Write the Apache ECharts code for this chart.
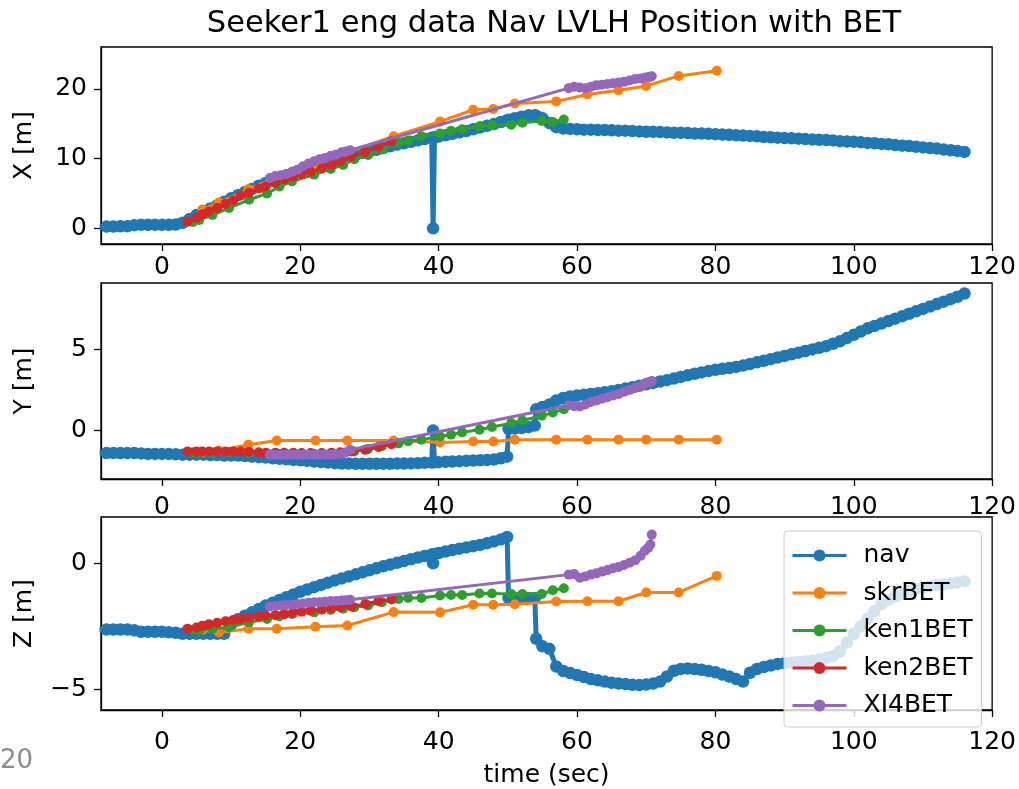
<!DOCTYPE html>
<html>
<head>
<meta charset="utf-8">
<title>Seeker1 eng data Nav LVLH Position with BET</title>
<script src="https://cdn.jsdelivr.net/npm/echarts@6/dist/echarts.min.js"></script>
<style>
html, body { margin: 0; padding: 0; background: #fff; }
#main { width: 1019px; height: 789px; }
</style>
</head>
<body>
<div id="main"></div>
<script>
// nav solution, time (sec)
var navT = [
	-9, -8, -7, -6, -5, -4, -3, -2, -1, 0,
	1, 2, 3, 4, 5, 6, 7, 8, 9, 10,
	11, 12, 13, 14, 15, 16, 17, 18, 19, 20,
	21, 22, 23, 24, 25, 26, 27, 28, 29, 30,
	31, 32, 33, 34, 35, 36, 37, 38, 39, 39.2,
	39.4, 40, 41, 42, 43, 44, 45, 46, 47, 48,
	49, 49.9, 50.1, 51, 52, 53, 53.9, 54.1, 55, 56,
	57, 58, 59, 60, 61, 62, 63, 64, 65, 66,
	67, 68, 69, 70, 71, 72, 73, 74, 75, 76,
	77, 78, 79, 80, 81, 82, 83, 84, 85, 86,
	87, 88, 89, 90, 91, 92, 93, 94, 95, 96,
	97, 98, 99, 100, 101, 102, 103, 104, 105, 106,
	107, 108, 109, 110, 111, 112, 113, 114, 115, 116
];
var navX = [
	0.25, 0.25, 0.25, 0.3, 0.3, 0.45, 0.5, 0.5, 0.5, 0.5,
	0.5, 0.55, 0.8, 1.35, 1.9, 2.4, 2.85, 3.3, 3.8, 4.3,
	4.75, 5.2, 5.65, 6.1, 6.5, 6.85, 7.25, 7.6, 7.95, 8.3,
	8.6, 8.9, 9.2, 9.5, 9.8, 10.05, 10.3, 10.55, 10.8, 11.0,
	11.25, 11.5, 11.75, 12.0, 12.2, 12.4, 12.6, 12.8, 13.0, 0,
	13.05, 13.15, 13.35, 13.55, 13.75, 13.95, 14.2, 14.45, 14.7, 14.95,
	15.25, 15.5, 15.55, 15.8, 16.0, 16.2, 16.2, 16.15, 15.8, 15.1,
	14.5, 14.3, 14.25, 14.2, 14.15, 14.15, 14.1, 14.1, 14.05, 14.0,
	14.0, 13.95, 13.9, 13.85, 13.85, 13.8, 13.75, 13.7, 13.7, 13.65,
	13.6, 13.6, 13.55, 13.5, 13.45, 13.4, 13.35, 13.3, 13.25, 13.2,
	13.1, 13.05, 13.0, 12.95, 12.9, 12.85, 12.8, 12.75, 12.7, 12.65,
	12.6, 12.5, 12.45, 12.4, 12.35, 12.25, 12.2, 12.1, 12.05, 11.95,
	11.85, 11.8, 11.7, 11.6, 11.5, 11.45, 11.3, 11.2, 11.1, 10.95
];
var navY = [
	-1.4, -1.4, -1.4, -1.4, -1.4, -1.4, -1.42, -1.45, -1.45, -1.45,
	-1.45, -1.47, -1.5, -1.5, -1.5, -1.5, -1.52, -1.52, -1.55, -1.55,
	-1.55, -1.58, -1.62, -1.65, -1.68, -1.72, -1.75, -1.78, -1.82, -1.85,
	-1.88, -1.92, -1.95, -1.98, -2.02, -2.05, -2.05, -2.06, -2.06, -2.06,
	-2.06, -2.06, -2.06, -2.05, -2.05, -2.04, -2.02, -2.0, -1.98, 0,
	-1.97, -1.96, -1.94, -1.92, -1.9, -1.88, -1.86, -1.84, -1.82, -1.8,
	-1.72, -1.62, 0.1, 0.12, 0.15, 0.2, 0.3, 1.3, 1.45, 1.6,
	1.85, 2.0, 2.1, 2.15, 2.2, 2.25, 2.3, 2.36, 2.42, 2.5,
	2.58, 2.66, 2.75, 2.85, 2.93, 3.02, 3.1, 3.2, 3.3, 3.4,
	3.5, 3.58, 3.66, 3.74, 3.8, 3.85, 3.92, 4.0, 4.1, 4.2,
	4.3, 4.4, 4.5, 4.6, 4.7, 4.8, 4.9, 5.0, 5.1, 5.2,
	5.35, 5.5, 5.7, 5.9, 6.1, 6.3, 6.45, 6.6, 6.75, 6.9,
	7.05, 7.2, 7.35, 7.5, 7.65, 7.8, 7.95, 8.1, 8.25, 8.45
];
var navZ = [
	-2.63, -2.63, -2.63, -2.63, -2.63, -2.66, -2.72, -2.72, -2.72, -2.72,
	-2.74, -2.76, -2.8, -2.8, -2.8, -2.8, -2.8, -2.8, -2.8, -2.42,
	-2.22, -2.08, -1.95, -1.82, -1.68, -1.57, -1.46, -1.35, -1.24, -1.13,
	-1.04, -0.95, -0.86, -0.77, -0.68, -0.6, -0.52, -0.44, -0.36, -0.28,
	-0.2, -0.12, -0.05, 0.02, 0.09, 0.16, 0.23, 0.29, 0.35, 0,
	0.37, 0.41, 0.47, 0.53, 0.58, 0.63, 0.68, 0.73, 0.8, 0.87,
	0.95, 1.05, -1.38, -1.38, -1.38, -1.38, -1.38, -3.0, -3.3, -3.4,
	-4.1, -4.28, -4.36, -4.44, -4.52, -4.6, -4.65, -4.7, -4.75, -4.78,
	-4.8, -4.83, -4.84, -4.82, -4.78, -4.7, -4.5, -4.27, -4.2, -4.18,
	-4.2, -4.23, -4.28, -4.33, -4.42, -4.5, -4.6, -4.7, -4.35, -4.2,
	-4.12, -4.06, -4.0, -3.97, -3.94, -3.92, -3.9, -3.87, -3.82, -3.76,
	-3.69, -3.5, -3.15, -2.8, -2.5, -2.2, -1.9, -1.62, -1.45, -1.32,
	-1.2, -1.1, -1.02, -0.96, -0.91, -0.87, -0.84, -0.8, -0.76, -0.72
];

// skrBET
var skrT = [5.85, 8.25, 12.5, 16.6, 22.2, 26.8, 33.5, 40.2, 45.0, 47.9, 51.0, 57.0, 61.5, 66.0, 70.0, 74.7, 80.2];
var skrX = [2.7, 3.7, 5.6, 7.3, 9.1, 10.9, 13.2, 15.3, 17.0, 17.1, 17.9, 18.2, 19.2, 19.8, 20.4, 21.85, 22.6];
var skrY = [-1.35, -1.25, -0.88, -0.62, -0.62, -0.62, -0.62, -0.75, -0.68, -0.68, -0.57, -0.57, -0.57, -0.57, -0.57, -0.57, -0.57];
var skrZ = [-2.65, -2.75, -2.6, -2.6, -2.52, -2.47, -1.94, -1.95, -1.65, -1.65, -1.63, -1.52, -1.51, -1.51, -1.16, -1.16, -0.5];

// ken1BET
var ken1T = [4.5, 5.4, 7.3, 9.7, 12.6, 15.2, 17.0, 18.8, 22.0, 24.4, 26.2, 27.8, 29.8, 31.8, 34.2, 35.6, 37.5, 40.2, 41.8, 43.4, 45.9, 47.7, 50.5, 52.1, 54.9, 56.5, 58.1];
var ken1X = [0.9, 1.2, 1.9, 2.9, 4.1, 5.0, 6.0, 6.7, 7.7, 8.5, 9.1, 9.9, 10.5, 11.3, 12.3, 12.6, 13.2, 13.6, 14.0, 14.2, 14.6, 14.8, 14.85, 15.15, 15.4, 15.25, 15.6];
var ken1Y = [-1.35, -1.35, -1.35, -1.35, -1.38, -1.42, -1.45, -1.45, -1.45, -1.45, -1.4, -1.3, -1.15, -0.98, -0.8, -0.67, -0.57, -0.37, -0.26, -0.12, 0.04, 0.21, 0.45, 0.61, 0.9, 1.1, 1.31];
var ken1Z = [-2.65, -2.67, -2.6, -2.54, -2.34, -2.21, -2.1, -2.01, -1.95, -1.85, -1.8, -1.75, -1.68, -1.55, -1.42, -1.38, -1.38, -1.28, -1.26, -1.26, -1.2, -1.2, -1.22, -1.22, -1.22, -1.07, -0.99];

// ken2BET
var ken2T = [3.7, 5.0, 5.85, 6.8, 8.0, 9.2, 10.3, 11.4, 12.6, 14.0, 15.0, 16.4, 17.7, 19.0, 20.2, 21.5, 23.1, 24.5, 25.8, 27.4, 29.4, 31.3, 33.2];
var ken2X = [0.95, 1.5, 2.0, 2.4, 2.9, 3.5, 4.0, 4.7, 5.1, 5.7, 6.0, 6.5, 7.0, 7.4, 7.8, 8.1, 8.6, 9.1, 9.6, 10.3, 10.9, 11.7, 12.5];
var ken2Y = [-1.3, -1.3, -1.3, -1.3, -1.3, -1.3, -1.3, -1.3, -1.32, -1.35, -1.38, -1.38, -1.38, -1.38, -1.4, -1.4, -1.4, -1.38, -1.35, -1.3, -1.2, -1.02, -0.85];
var ken2Z = [-2.6, -2.55, -2.48, -2.42, -2.36, -2.3, -2.25, -2.21, -2.17, -2.12, -2.08, -2.06, -2.02, -1.97, -1.92, -1.88, -1.84, -1.79, -1.75, -1.72, -1.62, -1.5, -1.44];

// XI4BET
var xl4T = [15.6, 16.4, 17.2, 18.0, 18.8, 19.6, 20.4, 21.2, 22.0, 22.8, 23.6, 24.4, 25.2, 26.0, 26.6, 27.2,
	58.8, 59.6, 60.4, 61.2, 62.0, 62.8, 63.6, 64.4, 65.2, 66.0, 66.8, 67.6, 68.4, 69.2, 69.8, 70.3, 70.6, 70.8];
var xl4X = [7.2, 7.5, 7.6, 7.8, 8.1, 8.4, 8.9, 9.3, 9.6, 9.9, 10.1, 10.4, 10.6, 10.9, 11.0, 11.2,
	20.1, 20.3, 20.2, 20.1, 20.3, 20.5, 20.6, 20.7, 20.8, 20.9, 21.0, 21.2, 21.4, 21.5, 21.6, 21.7, 21.75, 21.8];
var xl4Y = [-1.5, -1.5, -1.5, -1.5, -1.5, -1.5, -1.5, -1.5, -1.5, -1.5, -1.5, -1.5, -1.48, -1.45, -1.35, -1.2,
	1.55, 1.5, 1.48, 1.6, 1.75, 1.85, 1.95, 2.05, 2.15, 2.25, 2.38, 2.5, 2.62, 2.75, 2.85, 2.95, 3.0, 3.05];
var xl4Z = [-1.72, -1.7, -1.68, -1.66, -1.65, -1.62, -1.6, -1.57, -1.55, -1.55, -1.52, -1.5, -1.5, -1.48, -1.47, -1.45,
	-0.45, -0.43, -0.57, -0.52, -0.45, -0.4, -0.33, -0.27, -0.2, -0.15, -0.07, 0.02, 0.12, 0.3, 0.5, 0.62, 0.75, 1.14];

// tick labels
var timeTicks = [0, 20, 40, 60, 80, 100, 120];
var xTicks = [0, 10, 20];
var yTicks = [0, 5];
var zTicks = [-5, 0];

var names = ['nav', 'skrBET', 'ken1BET', 'ken2BET', 'XI4BET'];
var colors = ['#1f77b4', '#ff7f0e', '#2ca02c', '#d62728', '#9467bd'];
var times = [navT, skrT, ken1T, ken2T, xl4T];
var comps = [
	[navX, skrX, ken1X, ken2X, xl4X],
	[navY, skrY, ken1Y, ken2Y, xl4Y],
	[navZ, skrZ, ken1Z, ken2Z, xl4Z]
];

var FONT = 'DejaVu Sans';

function pts(t, v){
	var out = [];
	for(var i = 0 ; i < t.length ; i++){
		out.push([t[i], v[i]]);
	}
	return out;
}

function minus(v){
	return String(v).replace('-', '\u2212');
}

var grids = [
	{left: 101, right: 22, top: 47, height: 197},
	{left: 101, right: 22, top: 283, height: 196},
	{left: 101, right: 22, top: 517, height: 195}
];
var yRange = [[-2.25, 26], [-3.0, 9.1], [-5.83, 1.84]];
var yTickSets = [xTicks, yTicks, zTicks];
var yNames = ['X [m]', 'Y [m]', 'Z [m]'];
var xMargins = [11, 16, 20];

var xAxes = [], yAxes = [], series = [];
for(var g = 0 ; g < 3 ; g++){
	grids[g].show = true;
	grids[g].borderColor = '#000';
	grids[g].borderWidth = 1.3;
	xAxes.push({
		type: 'value',
		gridIndex: g,
		min: -8.8,
		max: 120,
		name: g == 2 ? 'time (sec)' : '',
		nameLocation: 'middle',
		nameGap: 53,
		nameTextStyle: {fontFamily: FONT, fontSize: 25, color: '#000'},
		axisLine: {show: true, onZero: false, lineStyle: {color: '#000', width: 1.3}},
		axisTick: {show: true, length: 7, customValues: timeTicks, lineStyle: {color: '#000', width: 1.3}},
		axisLabel: {customValues: timeTicks, margin: xMargins[g], fontFamily: FONT, fontSize: 25, color: '#000', formatter: minus},
		splitLine: {show: false}
	});
	yAxes.push({
		type: 'value',
		gridIndex: g,
		min: yRange[g][0],
		max: yRange[g][1],
		name: yNames[g],
		nameLocation: 'middle',
		nameGap: 64,
		nameTextStyle: {fontFamily: FONT, fontSize: 25, color: '#000'},
		axisLine: {show: true, onZero: false, lineStyle: {color: '#000', width: 1.3}},
		axisTick: {show: true, length: 7, customValues: yTickSets[g], lineStyle: {color: '#000', width: 1.3}},
		axisLabel: {customValues: yTickSets[g], margin: 14, fontFamily: FONT, fontSize: 25, color: '#000', formatter: minus},
		splitLine: {show: false}
	});
	for(var s = 0 ; s < 5 ; s++){
		series.push({
			name: names[s],
			type: 'line',
			xAxisIndex: g,
			yAxisIndex: g,
			data: pts(times[s], comps[g][s]),
			symbol: 'circle',
			symbolSize: s == 0 ? 12.5 : 10,
			showAllSymbol: true,
			lineStyle: {width: s == 0 ? 5 : 3, color: colors[s]},
			itemStyle: {color: colors[s]},
			z: 2 + s * 0.01
		});
	}
}

var chart = echarts.init(document.getElementById('main'));
var option = {
	animation: false,
	textStyle: {fontFamily: FONT},
	title: {
		text: 'Seeker1 eng data Nav LVLH Position with BET',
		left: 549,
		top: 4,
		textAlign: 'center',
		textStyle: {fontFamily: FONT, fontSize: 30.5, fontWeight: 'normal', color: '#000'}
	},
	legend: {
		data: names,
		orient: 'vertical',
		left: 784,
		top: 531,
		padding: [12, 9, 9, 7],
		itemWidth: 54,
		itemHeight: 15,
		itemGap: 12.5,
		lineStyle: {width: 3},
		backgroundColor: 'rgba(255,255,255,0.8)',
		borderColor: '#cccccc',
		borderWidth: 1,
		borderRadius: 4,
		textStyle: {fontFamily: FONT, fontSize: 25, color: '#000', padding: [0, 0, 0, 12]},
		z: 10
	},
	grid: grids,
	xAxis: xAxes,
	yAxis: yAxes,
	series: series,
	graphic: [{
		type: 'text',
		left: 0,
		top: 748,
		style: {text: '20', fontFamily: FONT, fontSize: 26, fill: '#8c8c8c'}
	}]
};
chart.setOption(option);
</script>
</body>
</html>
